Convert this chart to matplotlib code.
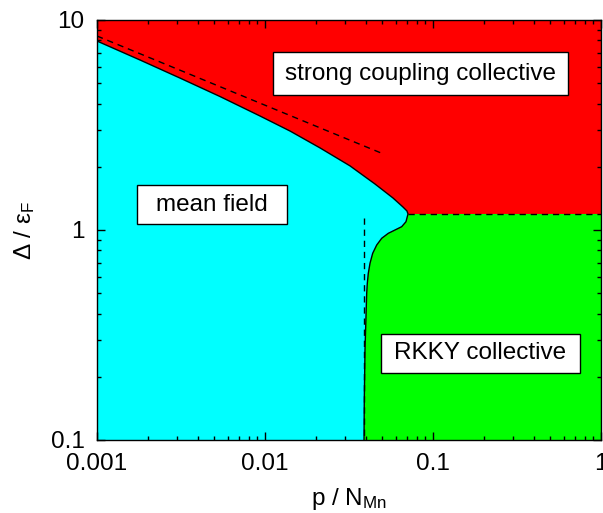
import matplotlib
matplotlib.use("Agg")
import matplotlib.pyplot as plt
from matplotlib.patches import Rectangle

plt.rcParams['font.family'] = ['Liberation Sans', 'DejaVu Sans']
plt.rcParams['mathtext.fontset'] = 'custom'
plt.rcParams['mathtext.rm'] = 'Liberation Sans'
plt.rcParams['mathtext.it'] = 'Liberation Sans:italic'

# Phase boundary (p/N_Mn, Delta/eps_F): upper branch up to the nose, then lower branch
p_upper = [0.001, 0.001803, 0.003119, 0.005400, 0.009340, 0.01409, 0.02125, 0.03206,
           0.04515, 0.05781, 0.06624, 0.06998, 0.07099]
d_upper = [7.94, 6.45, 5.29, 4.32, 3.49, 2.96, 2.46, 2.02, 1.656, 1.420, 1.287, 1.232, 1.192]
p_lower = [0.07099, 0.06905, 0.06511, 0.05939, 0.05420, 0.04950, 0.04623, 0.04375,
           0.04217, 0.04120, 0.04064, 0.04030, 0.03937, 0.03900, 0.03885]
d_lower = [1.192, 1.095, 1.037, 1.0, 0.9645, 0.9130, 0.8482, 0.7745,
           0.6941, 0.6221, 0.5574, 0.4995, 0.2683, 0.1551, 0.1]

# dashed asymptotes
p_strong = [0.001, 0.0495]
d_strong = [8.39, 2.32]
p_rkky_h = [0.07099, 1.0]
d_rkky_h = [1.192, 1.192]
p_mf_v = [0.0388, 0.0388]
d_mf_v = [1.137, 0.1]

xmin, xmax = 0.001, 1.0
ymin, ymax = 0.1, 10.0

labels = ["strong coupling collective", "mean field", "RKKY collective"]
# boxes in axes fraction: (x0, x1, y0, y1)
label_boxes = [(0.349, 0.935, 0.821, 0.924),
               (0.079, 0.377, 0.514, 0.607),
               (0.563, 0.958, 0.160, 0.252)]

fig = plt.figure(figsize=(6.03, 5.13), dpi=100)
ax = fig.add_axes([97/603, 1-440/513, 504/603, 420/513])
ax.set_xscale('log')
ax.set_yscale('log')
ax.set_xlim(xmin, xmax)
ax.set_ylim(ymin, ymax)

# red region (above boundary)
red_x = [xmin] + p_upper + [xmax, xmax, xmin]
red_y = [ymax] + d_upper + [d_upper[-1], ymax, ymax]
ax.fill(red_x, red_y, color='#ff0000', lw=0, zorder=1)
# cyan region (mean field)
cy_x = [xmin] + p_upper + p_lower[1:] + [xmin]
cy_y = [ymin] + d_upper + d_lower[1:] + [ymin]
ax.fill(cy_x, cy_y, color='#00ffff', lw=0, zorder=1)
# green region (RKKY)
gr_x = p_lower + [xmax, xmax]
gr_y = d_lower + [ymin, d_lower[0]]
ax.fill(gr_x, gr_y, color='#00ff00', lw=0, zorder=1)

ax.plot(p_upper + p_lower[1:], d_upper + d_lower[1:], color='black', lw=1.0, zorder=3)
ds = (0, (4.5, 3.5))
ax.plot(p_strong, d_strong, color='black', lw=1.0, ls=ds, zorder=3)
ax.plot(p_rkky_h, d_rkky_h, color='black', lw=1.0, ls=ds, zorder=3)
ax.plot(p_mf_v, d_mf_v, color='black', lw=1.0, ls=ds, zorder=3)

for t, (x0, x1, y0, y1) in zip(labels, label_boxes):
    ax.add_patch(Rectangle((x0, y0), x1 - x0, y1 - y0, transform=ax.transAxes,
                           fc='white', ec='black', lw=1.0, zorder=4))
    ax.text((x0 + x1) / 2, (y0 + y1) / 2, t, transform=ax.transAxes, ha='center',
            va='center', fontsize=17.5, zorder=5)

ax.set_xticks([0.001, 0.01, 0.1, 1])
ax.set_xticklabels(['0.001', '0.01', '0.1', '1'])
ax.set_yticks([0.1, 1, 10])
ax.set_yticklabels(['0.1', '1', '10'])
ax.tick_params(which='both', direction='in', top=True, right=True, labelsize=17.5, zorder=6)
ax.tick_params(which='major', length=6, width=1, pad=9)
ax.tick_params(which='minor', length=3, width=1)
for s in ax.spines.values():
    s.set_linewidth(1.0)
    s.set_zorder(6)

ax.set_xlabel('p / N$_\\mathrm{Mn}$', fontsize=17.5, labelpad=8)
ax.set_ylabel('Δ / ε$_\\mathrm{F}$', fontsize=17.5, labelpad=10)

fig.savefig('out.png', dpi=100)
